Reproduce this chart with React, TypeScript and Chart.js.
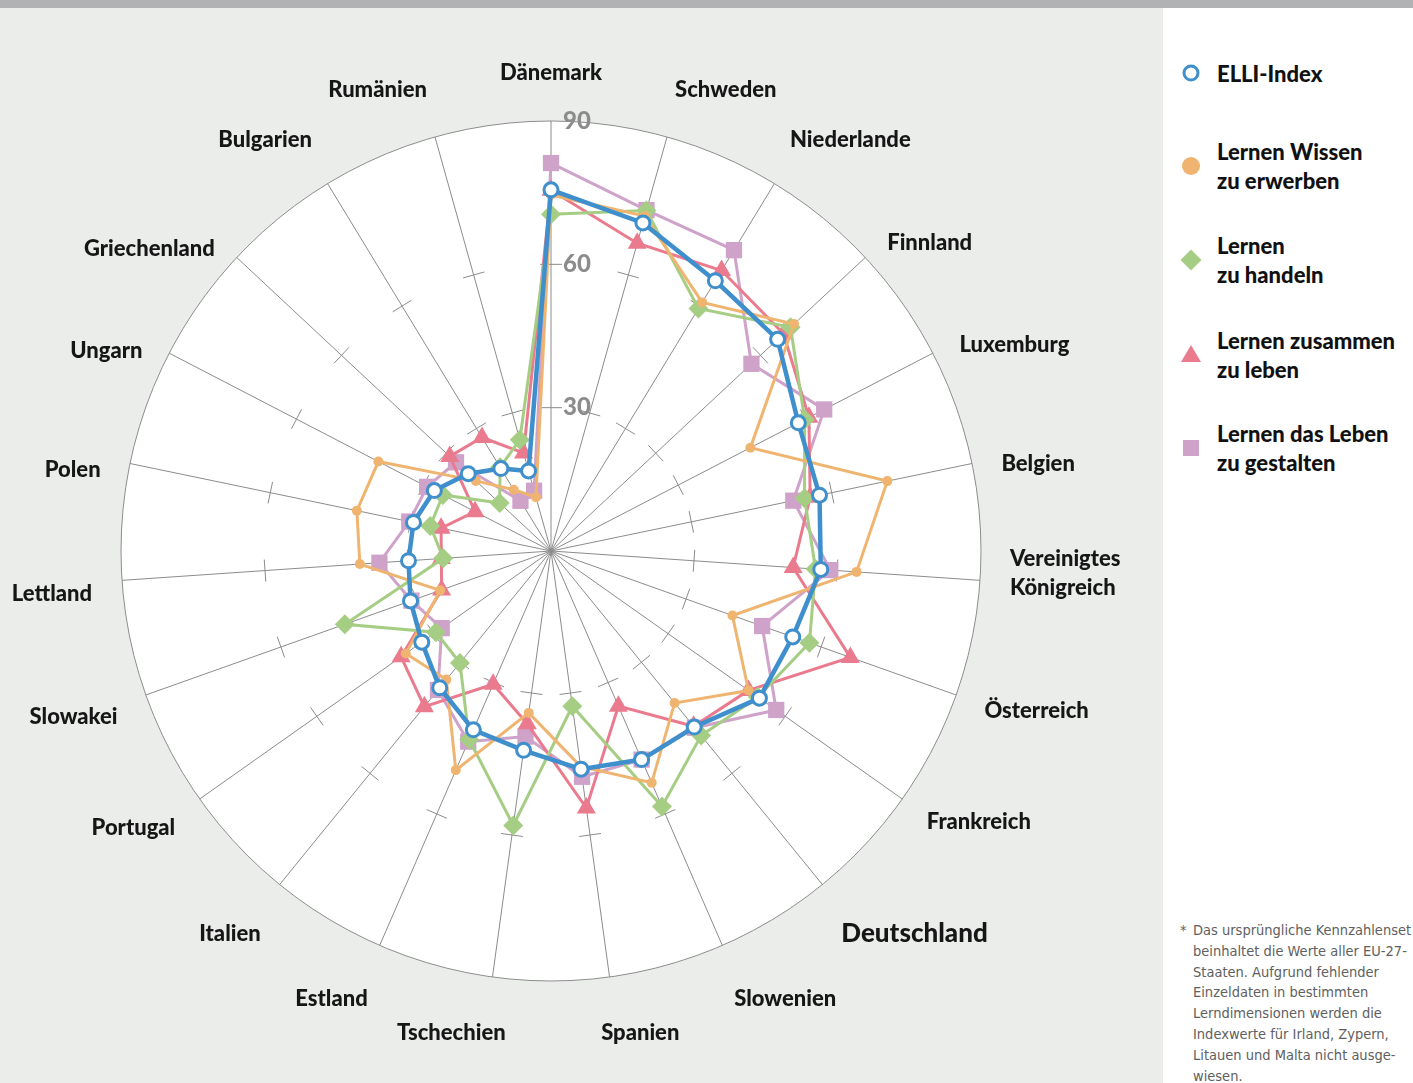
import React, { useEffect, useRef } from 'react';
import { Chart, registerables } from 'chart.js';

Chart.register(...registerables);

// ---------- data ----------
const CATEGORIES: (string | string[])[] = [
  'Dänemark', 'Schweden', 'Niederlande', 'Finnland', 'Luxemburg', 'Belgien',
  ['Vereinigtes', 'Königreich'], 'Österreich', 'Frankreich', 'Deutschland',
  'Slowenien', 'Spanien', 'Tschechien', 'Estland', 'Italien', 'Portugal',
  'Slowakei', 'Lettland', 'Polen', 'Ungarn', 'Griechenland', 'Bulgarien', 'Rumänien',
];
const HIGHLIGHT = 'Deutschland';
const TICK_VALUES = [30, 60, 90];

const ELLI_INDEX = [75.6, 71.3, 66.2, 64.9, 58.3, 57.4, 56.6, 53.7, 53.4, 47.5, 47.6, 46.1, 42.1, 40.8, 36.9, 33.1, 31.2, 29.9, 29.4, 27.5, 23.7, 20.2, 17.4];
const WISSEN = [74.5, 72.8, 60.9, 69.6, 47.0, 71.9, 64.1, 40.3, 50.6, 41.0, 52.9, 45.5, 34.2, 50.0, 34.7, 37.2, 24.6, 40.1, 41.5, 40.7, 21.5, 15.0, 11.7];
const HANDELN = [70.5, 74.0, 59.4, 68.6, 59.8, 54.2, 55.5, 57.4, 53.0, 49.8, 58.3, 32.8, 58.0, 43.0, 30.2, 29.5, 45.8, 22.6, 25.8, 25.5, 14.7, 20.5, 24.2];
const ZUSAMMEN = [75.5, 66.9, 68.7, 66.6, 60.8, 55.4, 50.8, 66.5, 50.6, 47.3, 35.4, 54.3, 36.5, 30.4, 42.0, 38.4, 24.3, 23.0, 23.5, 17.9, 29.0, 27.8, 21.3];
const GESTALTEN = [81.2, 74.1, 73.7, 57.4, 64.4, 51.8, 58.6, 46.9, 57.7, 47.7, 47.6, 47.7, 39.2, 43.5, 37.5, 28.0, 31.0, 36.0, 30.3, 29.2, 27.2, 12.3, 13.1];

const SERIES_NAMES = [
  'ELLI-Index',
  'Lernen Wissen\nzu erwerben',
  'Lernen\nzu handeln',
  'Lernen zusammen\nzu leben',
  'Lernen das Leben\nzu gestalten',
];

// ---------- styles ----------
const BLUE = '#3f8fcd';
const ORANGE = '#efb570';
const GREEN = '#a6cd84';
const RED = '#ea7b8e';
const PURPLE = '#cfa2c9';
const GRID = '#8c8c8c';
const FONT = 'Lato, "Open Sans", sans-serif';

const FOOTNOTE_LINES = [
  'Das ursprüngliche Kennzahlenset',
  'beinhaltet die Werte aller EU-27-',
  'Staaten. Aufgrund fehlender',
  'Einzeldaten in bestimmten',
  'Lerndimensionen werden die',
  'Indexwerte für Irland, Zypern,',
  'Litauen und Malta nicht ausge-',
  'wiesen.',
];

const decorPlugin = {
  id: 'decor',
  beforeDatasetsDraw(chart: any) {
    const scale = chart.scales.r;
    const ctx = chart.ctx;
    const n = chart.data.labels.length;
    ctx.save();
    ctx.strokeStyle = GRID;
    ctx.lineWidth = 1;
    const minor = TICK_VALUES.filter((v) => v < scale.max);
    for (let i = 0; i < n; i++) {
      for (const v of minor) {
        const d = scale.getDistanceFromCenterForValue(v);
        const p = scale.getPointPosition(i, d);
        const px = -Math.sin(p.angle);
        const py = Math.cos(p.angle);
        ctx.beginPath();
        ctx.moveTo(p.x - px * 11, p.y - py * 11);
        ctx.lineTo(p.x + px * 11, p.y + py * 11);
        ctx.stroke();
      }
    }
    ctx.restore();
  },
  afterDraw(chart: any) {
    const scale = chart.scales.r;
    const ctx = chart.ctx;
    ctx.save();
    // axis value labels
    ctx.fillStyle = GRID;
    ctx.font = `900 24px ${FONT}`;
    ctx.textAlign = 'left';
    ctx.textBaseline = 'middle';
    for (const v of TICK_VALUES) {
      const p = scale.getPointPosition(0, scale.getDistanceFromCenterForValue(v));
      ctx.fillText(String(v), p.x + 12, p.y);
    }
    // category labels
    const labels = chart.data.labels;
    const R = scale.drawingArea + 30;
    labels.forEach((lab: any, i: number) => {
      const lines: string[] = Array.isArray(lab) ? lab : [lab];
      const size = lab === HIGHLIGHT ? 26 : 22;
      ctx.font = `900 ${size}px ${FONT}`;
      ctx.fillStyle = '#161616';
      const lh = size * 1.3;
      const w = Math.max(...lines.map((l) => ctx.measureText(l).width));
      const h = lines.length * lh;
      const p = scale.getPointPosition(i, R);
      const sinT = Math.cos(p.angle);
      const cosT = -Math.sin(p.angle);
      const f = Math.sign(sinT) * Math.min(1, Math.abs(sinT) / 0.2);
      const cx = p.x + (f * w) / 2;
      let dy = (sinT < 0 ? 12 : 6) - (lines.length - 1) * 15;
      if (cosT > 0.8) dy = -18;
      else if (cosT < -0.6) dy = 26;
      const cy = p.y + dy;
      ctx.textAlign = 'left';
      ctx.textBaseline = 'middle';
      lines.forEach((l, k) => {
        const y = cy - h / 2 + lh * (k + 0.5);
        ctx.fillText(l, cx - w / 2, y);
      });
    });
    ctx.restore();
  },
};

function LegendMarker({ kind }: { kind: number }) {
  const s = 24;
  const c = s / 2;
  let shape: any = null;
  if (kind === 0) shape = <circle cx={c} cy={c} r={7} fill="#fff" stroke={BLUE} strokeWidth={3} />;
  if (kind === 1) shape = <circle cx={c} cy={c} r={9} fill={ORANGE} />;
  if (kind === 2) shape = <polygon points={`${c},${c - 10.5} ${c + 10.5},${c} ${c},${c + 10.5} ${c - 10.5},${c}`} fill={GREEN} />;
  if (kind === 3) shape = <polygon points={`${c},${c - 10} ${c + 10},${c + 7} ${c - 10},${c + 7}`} fill={RED} />;
  if (kind === 4) shape = <rect x={c - 8} y={c - 8} width={16} height={16} fill={PURPLE} />;
  return (
    <svg width={s} height={s} style={{ position: 'absolute', left: -38, top: '50%', marginTop: -s / 2 }}>
      {shape}
    </svg>
  );
}

export default function App() {
  const canvasRef = useRef<HTMLCanvasElement | null>(null);

  useEffect(() => {
    document.body.style.margin = '0';
    const canvas = canvasRef.current;
    if (!canvas) return;
    const mk = (i: number, data: number[], color: string, pointStyle: string, radius: number, lineWidth: number) => ({
      label: SERIES_NAMES[i],
      data,
      borderColor: color,
      backgroundColor: color,
      borderWidth: lineWidth,
      pointStyle,
      pointRadius: radius,
      pointBackgroundColor: color,
      pointBorderColor: color,
      pointBorderWidth: 0,
      fill: false,
      tension: 0,
    });
    const datasets: any[] = [
      {
        ...mk(0, ELLI_INDEX, BLUE, 'circle', 7, 4.5),
        pointBackgroundColor: '#ffffff',
        pointBorderWidth: 3,
      },
      mk(1, WISSEN, ORANGE, 'circle', 5, 3),
      mk(2, HANDELN, GREEN, 'rectRot', 10, 3),
      mk(3, ZUSAMMEN, RED, 'triangle', 11, 3),
      mk(4, GESTALTEN, PURPLE, 'rect', 11.5, 3),
    ];
    const chart = new Chart(canvas, {
      type: 'radar',
      data: { labels: CATEGORIES as any, datasets },
      options: {
        responsive: false,
        animation: false,
        events: [],
        layout: { padding: { left: 121, top: 113, right: 182, bottom: 102 } },
        plugins: { legend: { display: false }, tooltip: { enabled: false } },
        scales: {
          r: {
            min: 0,
            max: 90,
            backgroundColor: '#ffffff',
            ticks: { display: false, stepSize: 30 },
            pointLabels: { display: false },
            angleLines: { display: true, color: GRID, lineWidth: 1 },
            grid: {
              circular: true,
              color: (ctx: any) => (ctx.tick && ctx.tick.value === 90 ? GRID : 'rgba(0,0,0,0)'),
              lineWidth: 1,
            },
          },
        },
      } as any,
      plugins: [decorPlugin as any],
    });
    return () => chart.destroy();
  }, []);

  const legendTops = [58.5, 137, 231, 325.5, 418.5];

  return (
    <div style={{ position: 'relative', width: 1413, height: 1083, background: '#ffffff', overflow: 'hidden', fontFamily: FONT }}>
      <div style={{ position: 'absolute', left: 0, top: 0, width: 1413, height: 8, background: '#b1b2b3' }} />
      <div style={{ position: 'absolute', left: 0, top: 8, width: 1163, height: 1075, background: '#ebedeb' }}>
        <canvas ref={canvasRef} width={1163} height={1075} style={{ display: 'block', width: 1163, height: 1075 }} />
      </div>
      {SERIES_NAMES.map((name, i) => (
        <div
          key={i}
          style={{
            position: 'absolute',
            left: 1217,
            top: legendTops[i],
            fontWeight: 900,
            fontSize: 22,
            lineHeight: '29px',
            color: '#111',
            whiteSpace: 'pre',
          }}
        >
          <LegendMarker kind={i} />
          {name}
        </div>
      ))}
      <div
        style={{
          position: 'absolute',
          left: 1180,
          top: 920,
          fontFamily: '"Liberation Sans Narrow", "DejaVu Sans Condensed", sans-serif',
          fontSize: 14.5,
          lineHeight: '20.8px',
          color: '#606060',
          whiteSpace: 'nowrap',
        }}
      >
        <span style={{ position: 'absolute', left: 0, top: 0 }}>*</span>
        <div style={{ marginLeft: 13 }}>
          {FOOTNOTE_LINES.map((l, i) => (
            <div key={i}>{l}</div>
          ))}
        </div>
      </div>
    </div>
  );
}
